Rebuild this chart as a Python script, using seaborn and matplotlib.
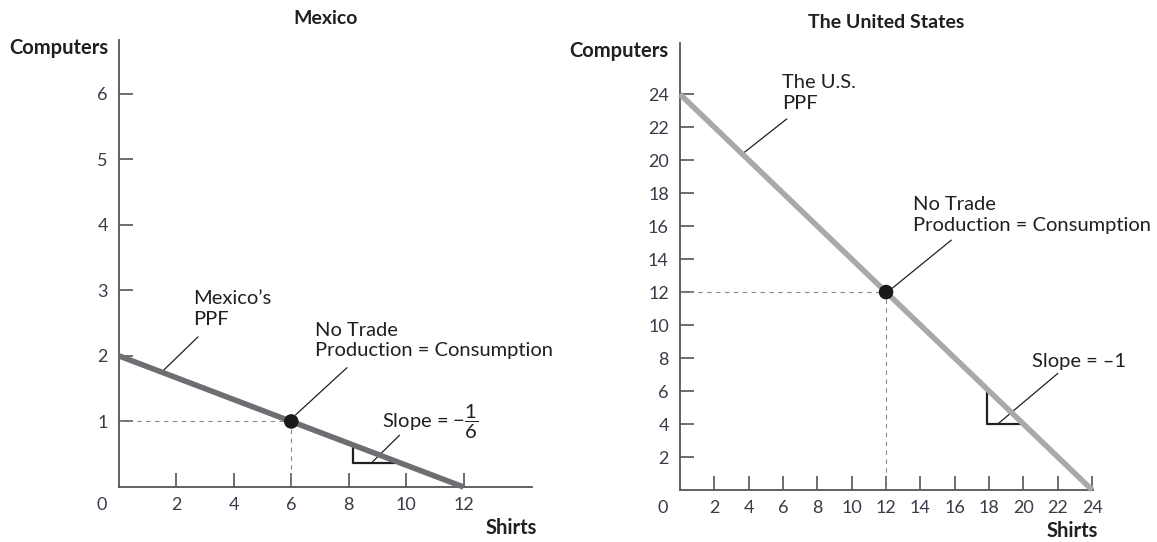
import matplotlib
matplotlib.use('Agg')
import matplotlib.pyplot as plt
import seaborn as sns

sns.set_theme(style='ticks')
plt.rcParams['font.family'] = ['Lato', 'DejaVu Sans']
plt.rcParams['mathtext.fontset'] = 'custom'
plt.rcParams['mathtext.rm'] = 'Lato'
plt.rcParams['mathtext.it'] = 'Lato'

# data
mex_shirts = [0, 12]
mex_computers = [2, 0]
mex_point = [6, 1]
mex_xticks = [2, 4, 6, 8, 10, 12]
mex_yticks = [1, 2, 3, 4, 5, 6]

us_shirts = [0, 24]
us_computers = [24, 0]
us_point = [12, 12]
us_xticks = list(range(2, 25, 2))
us_yticks = list(range(2, 25, 2))

# slope triangles (x, y corners)
mex_tri_x = [8.15, 8.15, 9.6]
mex_tri_y = [0.64, 0.37, 0.37]
us_tri_x = [17.9, 17.9, 19.9]
us_tri_y = [6.0, 4.0, 4.0]

txt = '#231f20'
tick_col = '#3a3a48'
axis_col = '#555555'

fig = plt.figure(figsize=(11.57, 5.42), dpi=100)
ax1 = fig.add_axes([0.1029, 0.1015, 0.357, 0.8247])
ax2 = fig.add_axes([0.5877, 0.0959, 0.357, 0.8247])


def style_axes(ax, xt, yt):
    for s in ['top', 'right']:
        ax.spines[s].set_visible(False)
    for s in ['left', 'bottom']:
        ax.spines[s].set_color(axis_col)
        ax.spines[s].set_linewidth(1.3)
    ax.set_xticks(xt)
    ax.set_yticks(yt)
    ax.tick_params(direction='in', length=10, width=1.2, color=axis_col,
                   labelsize=13, labelcolor=tick_col)
    ax.tick_params(axis='y', pad=8)
    ax.tick_params(axis='x', pad=7)
    ax.set_xlabel('')
    ax.set_ylabel('')
    ax.grid(False)
    ax.text(-0.041, -0.040, '0', transform=ax.transAxes, ha='center', va='center',
            fontsize=13, color=tick_col)
    ax.text(-0.027, 0.982, 'Computers', transform=ax.transAxes, ha='right', va='center',
            fontsize=14.5, fontweight='bold', color=txt)
    ax.text(0.95, -0.092, 'Shirts', transform=ax.transAxes, ha='center', va='center',
            fontsize=14.5, fontweight='bold', color=txt)


# Mexico
sns.lineplot(x=mex_shirts, y=mex_computers, ax=ax1, color='#6d6e71', lw=4, clip_on=False,
             solid_capstyle='butt', zorder=3)
ax1.plot([0, mex_point[0]], [mex_point[1], mex_point[1]], ls=(0, (4, 4)), color='#8a8a8a', lw=0.8)
ax1.plot([mex_point[0], mex_point[0]], [0, mex_point[1]], ls=(0, (4, 4)), color='#8a8a8a', lw=0.8)
sns.scatterplot(x=[mex_point[0]], y=[mex_point[1]], ax=ax1, s=110, color='#1a1a1a',
                edgecolor='none', zorder=5, clip_on=False)
ax1.plot(mex_tri_x, mex_tri_y, color=txt, lw=1.6, zorder=2)
ax1.set_xlim(0, 14.39)
ax1.set_ylim(0, 6.82)
style_axes(ax1, mex_xticks, mex_yticks)

ax1.text(2.58, 3.0, "Mexico\u2019s\nPPF", fontsize=14.5, color=txt, va='top', ha='left', linespacing=1.25)
ax1.plot([2.75, 1.5], [2.29, 1.76], color=txt, lw=0.9)
ax1.text(6.83, 2.52, 'No Trade\nProduction = Consumption', fontsize=14.5, color=txt,
         va='top', ha='left', linespacing=1.25)
ax1.plot([7.94, 6.15], [1.82, 1.1], color=txt, lw=0.9)
ax1.text(9.16, 0.90, r'Slope = $-\dfrac{1}{6}$', fontsize=14.5, color=txt, va='baseline', ha='left')
ax1.plot([9.77, 8.8], [0.79, 0.37], color=txt, lw=0.9)

# United States
sns.lineplot(x=us_shirts, y=us_computers, ax=ax2, color='#a7a9ac', lw=4, clip_on=False,
             solid_capstyle='butt', zorder=3)
ax2.plot([0, us_point[0]], [us_point[1], us_point[1]], ls=(0, (4, 4)), color='#8a8a8a', lw=0.8)
ax2.plot([us_point[0], us_point[0]], [0, us_point[1]], ls=(0, (4, 4)), color='#8a8a8a', lw=0.8)
sns.scatterplot(x=[us_point[0]], y=[us_point[1]], ax=ax2, s=110, color='#1a1a1a',
                edgecolor='none', zorder=5, clip_on=False)
ax2.plot(us_tri_x, us_tri_y, color=txt, lw=1.6, zorder=2)
ax2.set_xlim(0, 24.05)
ax2.set_ylim(0, 27.1)
style_axes(ax2, us_xticks, us_yticks)

ax2.text(5.93, 25.2, 'The U.S.\nPPF', fontsize=14.5, color=txt, va='top', ha='left', linespacing=1.25)
ax2.plot([6.22, 3.66], [22.5, 20.4], color=txt, lw=0.9)
ax2.text(13.55, 17.8, 'No Trade\nProduction = Consumption', fontsize=14.5, color=txt,
         va='top', ha='left', linespacing=1.25)
ax2.plot([15.8, 12.2], [15.15, 12.1], color=txt, lw=0.9)
ax2.text(20.5, 7.45, 'Slope = \u20131', fontsize=14.5, color=txt, va='baseline', ha='left')
ax2.plot([22.0, 18.5], [7.07, 4.0], color=txt, lw=0.9)

fig.text(326 / 1157, 1 - 19 / 542, 'Mexico', ha='center', va='center', fontsize=14,
         fontweight='bold', color=txt)
fig.text(886 / 1157, 1 - 22 / 542, 'The United States', ha='center', va='center', fontsize=14,
         fontweight='bold', color=txt)

fig.savefig('out.png', dpi=100, facecolor='white')
